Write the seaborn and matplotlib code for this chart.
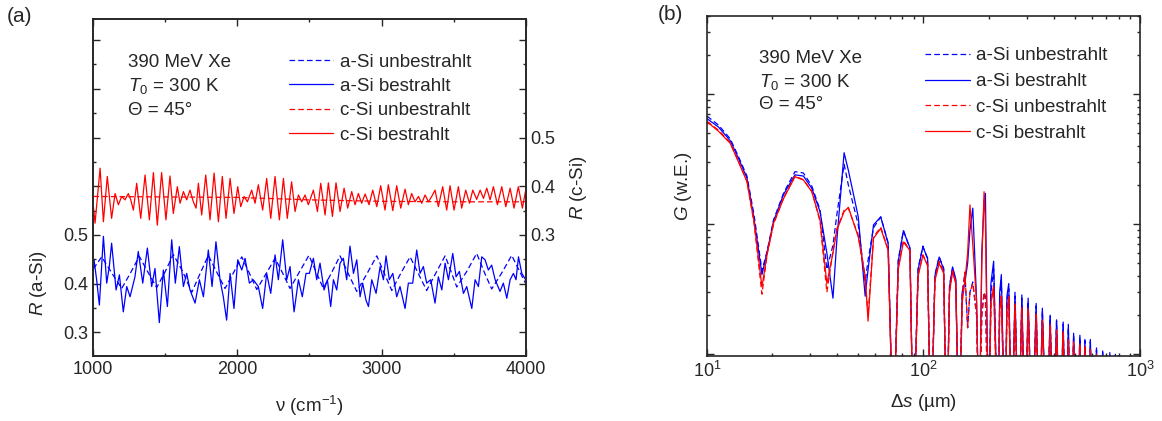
import matplotlib
matplotlib.use("Agg")
import matplotlib.pyplot as plt
from matplotlib.lines import Line2D
from matplotlib.ticker import FixedLocator, FuncFormatter, LogLocator, NullFormatter
import seaborn as sns

# ---------------- panel (a): reflectance spectra ----------------
# c-Si bestrahlt (red solid), right axis
csi_irr_nu = [1000, 1012, 1047, 1070, 1097, 1127, 1151, 1174, 1197, 1220, 1243, 1259, 1278, 1301, 1329,
              1359, 1389, 1417, 1444, 1474, 1504, 1532, 1555, 1583, 1602, 1625, 1648, 1671, 1694, 1713,
              1729, 1752, 1780, 1810, 1838, 1868, 1895, 1921, 1949, 1976, 2002, 2023, 2046, 2069, 2099,
              2122, 2145, 2175, 2203, 2231, 2261, 2291, 2319, 2346, 2376, 2400, 2423, 2446, 2469, 2492,
              2527, 2555, 2578, 2608, 2631, 2659, 2684, 2712, 2740, 2765, 2793, 2816, 2839, 2862, 2886,
              2913, 2939, 2967, 2994, 3024, 3047, 3078, 3105, 3133, 3163, 3186, 3209, 3232, 3256, 3279,
              3302, 3325, 3348, 3371, 3394, 3424, 3452, 3475, 3503, 3533, 3556, 3584, 3610, 3633, 3660,
              3684, 3707, 3730, 3753, 3776, 3804, 3834, 3862, 3892, 3919, 3949, 3977, 4000]
csi_irr_r = [0.360, 0.324, 0.437, 0.327, 0.420, 0.334, 0.385, 0.362, 0.379, 0.372, 0.385, 0.373, 0.351, 0.406, 0.334,
             0.423, 0.331, 0.428, 0.320, 0.428, 0.331, 0.421, 0.344, 0.399, 0.365, 0.389, 0.372, 0.392, 0.368, 0.355,
             0.406, 0.341, 0.423, 0.331, 0.427, 0.327, 0.420, 0.334, 0.416, 0.344, 0.399, 0.358, 0.379, 0.368, 0.392,
             0.365, 0.403, 0.351, 0.416, 0.334, 0.420, 0.331, 0.416, 0.334, 0.409, 0.348, 0.382, 0.368, 0.382, 0.362,
             0.392, 0.348, 0.406, 0.341, 0.407, 0.338, 0.407, 0.348, 0.396, 0.355, 0.389, 0.362, 0.385, 0.365, 0.384,
             0.362, 0.392, 0.358, 0.401, 0.351, 0.403, 0.350, 0.401, 0.355, 0.394, 0.362, 0.385, 0.368, 0.379, 0.365,
             0.382, 0.368, 0.379, 0.392, 0.358, 0.399, 0.351, 0.401, 0.351, 0.399, 0.355, 0.392, 0.365, 0.392, 0.373,
             0.392, 0.375, 0.396, 0.372, 0.399, 0.362, 0.399, 0.358, 0.396, 0.355, 0.399, 0.355, 0.392]

# c-Si unbestrahlt (red dashed), right axis
csi_ref_nu = [1000, 1500, 2000, 2500, 3000, 3500, 4000]
csi_ref_r = [0.379, 0.378, 0.377, 0.372, 0.369, 0.368, 0.368]

# a-Si bestrahlt (blue solid), left axis
asi_irr_nu = [1000, 1005, 1023, 1042, 1070, 1093, 1111, 1127, 1158, 1181, 1208, 1232, 1255, 1289, 1312,
              1343, 1375, 1405, 1428, 1458, 1486, 1514, 1544, 1569, 1597, 1625, 1648, 1671, 1706, 1736,
              1764, 1798, 1824, 1851, 1879, 1902, 1925, 1949, 1976, 2002, 2030, 2053, 2083, 2110, 2145,
              2175, 2203, 2231, 2261, 2284, 2314, 2342, 2365, 2393, 2423, 2450, 2476,
              2499, 2527, 2550, 2573, 2601, 2624, 2647, 2666, 2689, 2712, 2735, 2758, 2781, 2805, 2828,
              2851, 2869, 2892, 2909, 2932, 2962, 2990, 3013, 3031, 3054, 3078, 3105, 3128, 3163, 3186,
              3216, 3244, 3267, 3290, 3313, 3341, 3371, 3394, 3418, 3441, 3464, 3494, 3517, 3540, 3568,
              3591, 3626, 3649, 3672, 3695, 3718, 3741, 3764, 3788, 3822, 3845, 3869, 3892, 3915, 3933,
              3950, 3973, 4000]
asi_irr_r = [0.430, 0.449, 0.408, 0.356, 0.497, 0.401, 0.435, 0.483, 0.387, 0.418, 0.342, 0.394, 0.373, 0.414, 0.466,
             0.401, 0.473, 0.394, 0.431, 0.320, 0.428, 0.353, 0.490, 0.401, 0.476, 0.394, 0.421, 0.387, 0.360, 0.408,
             0.373, 0.469, 0.394, 0.486, 0.408, 0.373, 0.325, 0.421, 0.349, 0.449, 0.428, 0.452, 0.401, 0.408, 0.394,
             0.349, 0.421, 0.380, 0.459, 0.408, 0.490, 0.408, 0.435, 0.342, 0.408, 0.373, 0.421,
             0.421, 0.452, 0.408, 0.442, 0.387, 0.408, 0.353, 0.408, 0.387, 0.442, 0.452, 0.408, 0.477, 0.421, 0.449,
             0.373, 0.401, 0.366, 0.353, 0.408, 0.380, 0.435, 0.408, 0.457, 0.408, 0.421, 0.373, 0.394, 0.349, 0.401,
             0.401, 0.469, 0.421, 0.435, 0.401, 0.408, 0.360, 0.414, 0.387, 0.442, 0.408, 0.462, 0.414, 0.425, 0.380,
             0.394, 0.349, 0.408, 0.394, 0.455, 0.449, 0.428, 0.438, 0.408, 0.384, 0.401, 0.370, 0.408, 0.421, 0.408,
             0.455, 0.421, 0.408]

# a-Si unbestrahlt (blue dashed), left axis
asi_ref_nu = [1000, 1058, 1128, 1197, 1258, 1319, 1380, 1440, 1498, 1555, 1620, 1683, 1740, 1798, 1856,
              1914, 1972, 2030, 2082, 2134, 2198, 2261, 2313, 2365, 2430, 2496, 2546, 2596, 2654, 2712,
              2770, 2828, 2898, 2967, 3019, 3071, 3135, 3198, 3256, 3313, 3377, 3441, 3482, 3522, 3591,
              3660, 3712, 3764, 3834, 3903, 3950, 4000]
asi_ref_r = [0.430, 0.455, 0.422, 0.390, 0.422, 0.456, 0.423, 0.392, 0.424, 0.460, 0.425, 0.382, 0.420, 0.458, 0.424,
             0.390, 0.422, 0.455, 0.422, 0.388, 0.420, 0.452, 0.422, 0.390, 0.424, 0.458, 0.424, 0.390, 0.423, 0.457,
             0.420, 0.384, 0.420, 0.457, 0.421, 0.386, 0.422, 0.455, 0.420, 0.386, 0.422, 0.457, 0.425, 0.393, 0.425,
             0.462, 0.424, 0.389, 0.422, 0.458, 0.430, 0.400]

# ---------------- panel (b): G vs delta s ----------------
dip = 0.02  # curves fall below the axis floor here
ds = [10, 11.3, 12.8, 14.0, 15.3, 16.5, 17.95, 19.0, 20.3, 22.6, 25.5, 27.9, 30.5, 33.3, 35.8,
      38.2, 39.8, 43.0, 45.0, 50.0, 53.8, 55.5, 58.8, 63.5, 68.7, 72.5, 76.5, 80.8, 86.6, 89.8,
      94.5, 99.4, 104.5, 108.2, 113, 118.2, 124, 128, 132, 136.3, 141, 146, 151, 155.5, 160,
      164, 169, 176, 181, 186, 190.6, 193.3, 200, 205, 211, 221, 225, 229, 238, 243,
      247.8, 256, 264.8, 275, 284.8, 295, 304.5, 318, 331.6, 343, 354.3, 370, 385, 398, 412,
      427, 442, 455, 467, 480, 494, 510, 528, 542, 557, 573, 590, 610, 630, 650,
      673, 700, 726, 748, 770, 790]
g_asi_irr = [6.5, 5.6, 4.4, 3.2, 2.27, 1.1, 0.41, 0.62, 1.05, 1.7, 2.4, 2.35, 1.89, 1.25, 0.6,
             0.27, 0.75, 3.55, 2.6, 1.14, 0.28, 0.45, 0.99, 1.14, 0.71, dip, 0.52, 0.89, 0.66, dip,
             0.45, 0.67, 0.55, dip, 0.4, 0.56, 0.45, dip, 0.33, 0.47, 0.38, dip, 0.3, 0.36, 0.5,
             0.9, 1.33, 0.26, dip, 0.6, 1.5, 1.73, dip, 0.35, 0.52, dip, 0.3, 0.41, dip, 0.28,
             0.35, dip, 0.3, dip, 0.286, dip, 0.27, dip, 0.246, dip, 0.226, dip, 0.2, dip, 0.184,
             dip, 0.177, dip, 0.17, dip, 0.145, dip, 0.14, dip, 0.13, dip, 0.13, dip, 0.112, dip,
             0.106, dip, 0.103, dip, 0.1, dip]
g_asi_ref = [6.8, 5.8, 4.55, 3.3, 2.35, 1.18, 0.44, 0.63, 1.08, 1.74, 2.54, 2.48, 1.97, 1.29, 0.45,
             0.69, 1.18, 2.9, 2.0, 0.99, 0.36, 0.53, 0.94, 1.14, 0.72, dip, 0.53, 0.9, 0.65, dip,
             0.46, 0.68, 0.54, dip, 0.41, 0.56, 0.46, dip, 0.34, 0.46, 0.37, dip, 0.3, 0.42, 0.16,
             0.3, 0.36, 0.2, dip, 0.2, 0.3, 0.28, dip, 0.3, 0.45, dip, 0.28, 0.37, dip, 0.25,
             0.32, dip, 0.28, dip, 0.27, dip, 0.255, dip, 0.235, dip, 0.215, dip, 0.195, dip, 0.18,
             dip, 0.17, dip, 0.16, dip, 0.14, dip, 0.135, dip, 0.127, dip, 0.125, dip, 0.108, dip,
             0.104, dip, 0.101, dip, 0.099, dip]
g_csi_irr = [6.15, 5.2, 4.2, 3.0, 2.13, 1.05, 0.33, 0.6, 1.02, 1.58, 2.32, 2.19, 1.78, 1.08, 0.35,
             0.6, 0.9, 1.25, 1.35, 0.8, 0.4, 0.18, 0.78, 0.93, 0.63, dip, 0.45, 0.73, 0.63, dip,
             0.4, 0.58, 0.48, dip, 0.37, 0.5, 0.42, dip, 0.3, 0.43, 0.35, dip, 0.25, 0.37, 0.6,
             1.41, 0.7, 0.25, dip, 0.5, 1.78, 1.0, dip, 0.25, 0.33, dip, 0.22, 0.28, dip, 0.22,
             0.28, dip, 0.246, dip, 0.23, dip, 0.226, dip, 0.206, dip, 0.184, dip, 0.17, dip, 0.155,
             dip, 0.15, dip, 0.13, dip, 0.125, dip, 0.12, dip, 0.115, dip, 0.11, dip, 0.1, dip,
             0.098, dip, 0.09, dip, 0.09, dip]
g_csi_ref = [6.2, 5.3, 4.25, 3.05, 2.15, 1.02, 0.29, 0.6, 1.0, 1.6, 2.35, 2.2, 1.8, 1.05, 0.3,
             0.62, 0.92, 1.28, 1.33, 0.82, 0.38, 0.2, 0.8, 0.95, 0.64, dip, 0.47, 0.75, 0.63, dip,
             0.41, 0.58, 0.49, dip, 0.38, 0.52, 0.43, dip, 0.31, 0.44, 0.36, dip, 0.28, 0.43, 0.16,
             0.3, 0.35, 0.2, dip, 0.2, 0.3, 0.26, dip, 0.25, 0.33, dip, 0.22, 0.28, dip, 0.21,
             0.27, dip, 0.24, dip, 0.225, dip, 0.22, dip, 0.2, dip, 0.18, dip, 0.165, dip, 0.15,
             dip, 0.145, dip, 0.128, dip, 0.122, dip, 0.118, dip, 0.112, dip, 0.108, dip, 0.098, dip,
             0.095, dip, 0.09, dip, 0.09, dip]

labels = ["a-Si unbestrahlt", "a-Si bestrahlt", "c-Si unbestrahlt", "c-Si bestrahlt"]

sns.set_style("ticks")
plt.rcParams["font.family"] = ["Liberation Sans", "DejaVu Sans"]
plt.rcParams["mathtext.fontset"] = "custom"
plt.rcParams["mathtext.rm"] = "Liberation Sans"
plt.rcParams["mathtext.it"] = "Liberation Sans:italic"
plt.rcParams["mathtext.bf"] = "Liberation Sans:bold"
plt.rcParams["axes.linewidth"] = 1.2

BLUE = "#0000ff"
RED = "#ff0000"
DASH = (0, (4.5, 2.5))
LW = 0.9
TICK_FS = 13
LABEL_FS = 13.5
TEXT_FS = 13.5

fig = plt.figure(figsize=(11.62, 4.21), dpi=100)
ax_a = fig.add_axes([0.0803, 0.1551, 0.3721, 0.8005])
ax_a2 = ax_a.twinx()
ax_b = fig.add_axes([0.6084, 0.1544, 0.3726, 0.8076])

# --- panel (a)
sns.lineplot(x=asi_ref_nu, y=asi_ref_r, ax=ax_a, color=BLUE, lw=LW, linestyle=DASH,
             sort=False, estimator=None)
sns.lineplot(x=asi_irr_nu, y=asi_irr_r, ax=ax_a, color=BLUE, lw=LW, sort=False, estimator=None)
sns.lineplot(x=csi_irr_nu, y=csi_irr_r, ax=ax_a2, color=RED, lw=LW, sort=False, estimator=None)
sns.lineplot(x=csi_ref_nu, y=csi_ref_r, ax=ax_a2, color=RED, lw=LW, linestyle=DASH,
             sort=False, estimator=None)

ax_a.set_xlim(1000, 4000)
ax_a.set_ylim(0.252, 0.944)
ax_a2.set_ylim(0.052, 0.744)
ax_a.xaxis.set_major_locator(FixedLocator([1000, 2000, 3000, 4000]))
ax_a.xaxis.set_minor_locator(FixedLocator([1500, 2500, 3500]))


def short_label(v, pos):
    return f"{v:.1f}" if 0.29 < v < 0.51 else ""


ax_a.yaxis.set_major_locator(FixedLocator([0.3, 0.4, 0.5, 0.6, 0.7, 0.8, 0.9]))
ax_a.yaxis.set_minor_locator(FixedLocator([0.35, 0.45, 0.55, 0.65, 0.75, 0.85]))
ax_a.yaxis.set_major_formatter(FuncFormatter(short_label))
ax_a2.yaxis.set_major_locator(FixedLocator([0.1, 0.2, 0.3, 0.4, 0.5, 0.6, 0.7]))
ax_a2.yaxis.set_minor_locator(FixedLocator([0.15, 0.25, 0.35, 0.45, 0.55, 0.65]))
ax_a2.yaxis.set_major_formatter(FuncFormatter(short_label))

for a in (ax_a, ax_a2):
    a.tick_params(which="both", direction="in", labelsize=TICK_FS, width=1.0)
    a.tick_params(which="major", length=5)
    a.tick_params(which="minor", length=2.5)
ax_a.tick_params(which="both", top=True, right=False)
ax_a2.tick_params(which="both", left=False, right=True, labelright=True)

ax_a.set_xlabel(r"ν (cm$^{-1}$)", fontsize=LABEL_FS, labelpad=12)
ax_a.set_ylabel(r"$\mathit{R}$ (a-Si)", fontsize=LABEL_FS)
ax_a.yaxis.set_label_coords(-0.103, 0.216)
ax_a2.set_ylabel(r"$\mathit{R}$ (c-Si)", fontsize=LABEL_FS, rotation=90)
ax_a2.yaxis.set_label_coords(1.097, 0.497)

info = ["390 MeV Xe", r"$\mathit{T}_{\mathit{0}}$ = 300 K", "Θ = 45°"]
for txt, yy in zip(info, [0.858, 0.786, 0.714]):
    ax_a2.text(0.081, yy, txt, transform=ax_a2.transAxes, fontsize=TEXT_FS, va="baseline")

handles = [Line2D([], [], color=BLUE, lw=LW, linestyle=DASH),
           Line2D([], [], color=BLUE, lw=LW),
           Line2D([], [], color=RED, lw=LW, linestyle=DASH),
           Line2D([], [], color=RED, lw=LW)]
ax_a2.legend(handles, labels, loc="upper left", bbox_to_anchor=(0.452, 0.897), frameon=False,
             fontsize=TEXT_FS, handlelength=2.35, handletextpad=0.37, labelspacing=0.39,
             borderpad=0, borderaxespad=0)

# --- panel (b)
sns.lineplot(x=ds, y=g_asi_irr, ax=ax_b, color=BLUE, lw=LW, sort=False, estimator=None)
sns.lineplot(x=ds, y=g_asi_ref, ax=ax_b, color=BLUE, lw=LW, linestyle=DASH, sort=False, estimator=None)
sns.lineplot(x=ds, y=g_csi_irr, ax=ax_b, color=RED, lw=LW, sort=False, estimator=None)
sns.lineplot(x=ds, y=g_csi_ref, ax=ax_b, color=RED, lw=LW, linestyle=DASH, sort=False, estimator=None)

ax_b.set_xscale("log")
ax_b.set_yscale("log")
ax_b.set_xlim(10, 1000)
ax_b.set_ylim(0.097, 40)
ax_b.yaxis.set_major_locator(LogLocator(base=10, numticks=10))
ax_b.yaxis.set_minor_locator(LogLocator(base=10, subs=range(2, 10), numticks=10))
ax_b.yaxis.set_major_formatter(NullFormatter())
ax_b.yaxis.set_minor_formatter(NullFormatter())
ax_b.xaxis.set_minor_locator(LogLocator(base=10, subs=range(2, 10), numticks=10))
ax_b.xaxis.set_minor_formatter(NullFormatter())
ax_b.tick_params(which="both", direction="in", top=True, right=True, labelsize=TICK_FS, width=1.0)
ax_b.tick_params(which="major", length=5)
ax_b.tick_params(which="minor", length=2.5)

ax_b.set_xlabel(r"Δ$\mathit{s}$ (µm)", fontsize=LABEL_FS, labelpad=8)
ax_b.set_ylabel(r"$\mathit{G}$ (w.E.)", fontsize=LABEL_FS)
ax_b.yaxis.set_label_coords(-0.03, 0.498)

for txt, yy in zip(info, [0.861, 0.791, 0.726]):
    ax_b.text(0.121, yy, txt, transform=ax_b.transAxes, fontsize=TEXT_FS, va="baseline")

ax_b.legend(handles, labels, loc="upper left", bbox_to_anchor=(0.503, 0.908), frameon=False,
            fontsize=TEXT_FS, handlelength=2.4, handletextpad=0.32, labelspacing=0.46,
            borderpad=0, borderaxespad=0)

fig.text(20 / 1162, 1 - 16 / 421, "(a)", fontsize=15, ha="center", va="center")
fig.text(670 / 1162, 1 - 15 / 421, "(b)", fontsize=15, ha="center", va="center")

fig.savefig("out.png", dpi=100)
